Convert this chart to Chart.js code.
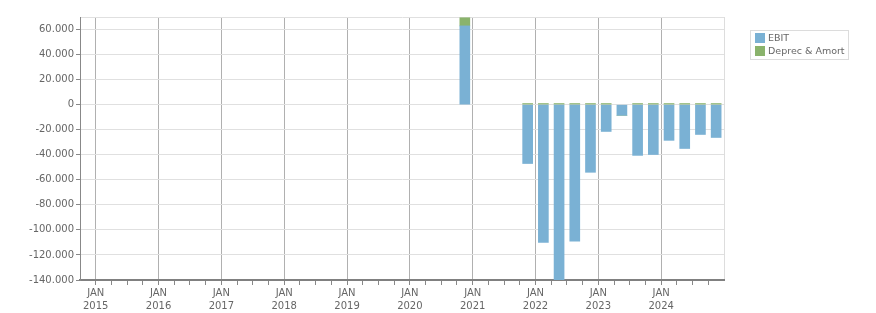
<!DOCTYPE html>
<html>
<head>
<meta charset="utf-8">
<script src="https://cdn.jsdelivr.net/npm/chart.js@4.4.1/dist/chart.umd.min.js"></script>
<style>
  html, body { margin: 0; padding: 0; background: #fff; }
  #wrap { width: 876px; height: 313px; position: relative; }
</style>
</head>
<body>
<div id="wrap"><canvas id="ebit_chart"></canvas></div>
<script>
// quarterly figures
var periods = ['2020 Q4', '2021 Q4', '2022 Q1', '2022 Q2', '2022 Q3', '2022 Q4', '2023 Q1',
               '2023 Q2', '2023 Q3', '2023 Q4', '2024 Q1', '2024 Q2', '2024 Q3', '2024 Q4'];
var ebit = [62900, -47000, -110000, -139800, -109000, -54000, -21400,
            -8500, -40500, -39800, -28500, -35000, -23800, -26200];
var deprAmort = [6500, 900, 900, 900, 900, 900, 900,
                 0, 900, 900, 900, 900, 900, 900];
var yTicks = [-140000, -120000, -100000, -80000, -60000, -40000, -20000, 0, 20000, 40000, 60000, 70000];
var firstYear = 2015, lastYear = 2024;

// quarter label -> middle of that quarter, in years
function quarterPos(p) {
    var parts = p.split(' Q');
    return Number(parts[0]) + (Number(parts[1]) - 1) * 0.25 + 0.125;
}
function points(values) {
    return periods.map(function(p, i){ return {x: quarterPos(p), y: values[i]}; });
}
function fmt(v) {
    var s = String(Math.abs(v)).replace(/\B(?=(\d{3})+(?!\d))/g, '.');
    return (v < 0 ? '-' : '') + s;
}

var legendBox = {
    id: 'legendBox',
    afterDraw: function(chart) {
        var ctx = chart.ctx;
        var x = chart.chartArea.right + 26, y = 30;
        ctx.save();
        ctx.font = '9.5px "DejaVu Sans"';
        var w = 0;
        chart.data.datasets.forEach(function(ds){ w = Math.max(w, ctx.measureText(ds.label).width); });
        ctx.strokeStyle = '#dcdcdc';
        ctx.lineWidth = 1;
        ctx.strokeRect(x + 0.5, y + 0.5, Math.round(w) + 21, 29);
        chart.data.datasets.forEach(function(ds, i){
            ctx.fillStyle = ds.backgroundColor;
            ctx.fillRect(x + 5, y + 3 + i * 13, 10, 10);
            ctx.fillStyle = '#666';
            ctx.textBaseline = 'middle';
            ctx.fillText(ds.label, x + 18, y + 8.5 + i * 13);
        });
        ctx.restore();
    }
};

var ctx = document.getElementById('ebit_chart').getContext('2d');
var ebit_chart = new Chart(ctx, {
    type: 'bar',
    data: {
        datasets: [{
            label: 'EBIT',
            data: points(ebit),
            backgroundColor: '#7ab1d4',
            barThickness: 10,
        },{
            label: 'Deprec & Amort',
            data: points(deprAmort),
            backgroundColor: '#8ab36c',
            barThickness: 10,
        }]
    },
    options: {
        responsive: true,
        maintainAspectRatio: false,
        animation: false,
        layout: { padding: { left: 26, right: 152, top: 17, bottom: 0 } },
        plugins: { legend: { display: false }, tooltip: { enabled: false } },
        scales: {
            x: {
                type: 'linear',
                stacked: true,
                offset: false,
                min: firstYear - 0.25,
                max: lastYear + 1,
                afterBuildTicks: function(scale) {
                    var t = [];
                    for (var q = 0; q <= 41; q++) t.push({value: firstYear - 0.25 + q * 0.25});
                    scale.ticks = t;
                },
                afterFit: function(scale) { scale.height = 33; },
                grid: {
                    offset: false,
                    drawOnChartArea: true,
                    tickLength: 5,
                    color: function(c) {
                        var v = c.tick.value;
                        if (v === lastYear + 1) return '#dddddd';
                        return Number.isInteger(v) ? '#b0b0b0' : 'rgba(0,0,0,0)';
                    },
                    tickColor: function(c) {
                        var v = c.tick.value;
                        return (v === firstYear - 0.25 || v === lastYear + 1) ? 'rgba(0,0,0,0)' : '#888';
                    },
                },
                border: { color: '#808080', width: 2 },
                ticks: {
                    autoSkip: false,
                    maxRotation: 0,
                    padding: 2,
                    color: '#666',
                    font: { family: 'DejaVu Sans', size: 10, lineHeight: 1.3 },
                    callback: function(v) {
                        return (Number.isInteger(v) && v <= lastYear) ? ['JAN', String(v)] : '';
                    }
                }
            },
            y: {
                stacked: true,
                min: -140000,
                max: 70000,
                afterBuildTicks: function(scale) {
                    scale.ticks = yTicks.map(function(v){ return {value: v}; });
                },
                afterFit: function(scale) { scale.width = 54; },
                grid: {
                    color: '#e0e0e0',
                    tickLength: 4,
                    tickColor: function(c) { return c.tick.value === 70000 ? 'rgba(0,0,0,0)' : '#888'; },
                },
                border: { color: '#888', width: 1 },
                ticks: {
                    padding: 2,
                    color: '#666',
                    font: { family: 'DejaVu Sans', size: 10 },
                    callback: function(v) { return v === 70000 ? '' : fmt(v); }
                }
            }
        }
    },
    plugins: [legendBox]
});
</script>
</body>
</html>
